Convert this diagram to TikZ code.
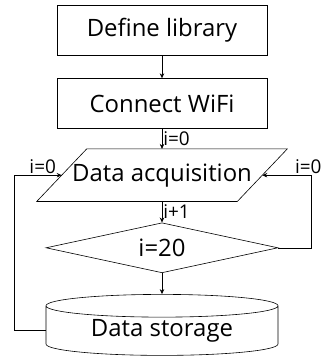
\documentclass[tikz,border=0pt]{standalone}
\usepackage{fontspec}
\setmainfont{Open Sans}
\usetikzlibrary{arrows.meta}
\usetikzlibrary{positioning}
\usetikzlibrary{shapes.geometric}
\tikzset {
  flow path/.style = {
    draw = black,
    line width = 0.6pt
  },
  % path with an arrow at its end
  arr/.style = {
    flow path,
    -{Stealth[length=5pt,width=4.5pt]}
  },
  % label beside an arrow
  lbl/.style = {
    font = \fontsize{19}{22}\selectfont,
    inner sep = 1bp
  }
}
\tikzset {
  flow node/.style = {
    draw = black,
    line width = 0.6pt,
    font = \fontsize{24}{26}\selectfont,
    inner sep = 0
  },
  % process step
  proc/.style = {
    flow node,
    rectangle,
    minimum width = 210bp,
    minimum height = 50bp
  },
  % input / output: the box is the mid line, the slanted frame is drawn round it
  inout/.style = {
    flow node,
    draw = none,
    rectangle,
    minimum width = 200bp,
    minimum height = 52bp
  },
  % decision
  decide/.style = {
    flow node,
    diamond,
    aspect = 4.6,
    minimum width = 232bp,
    minimum height = 50bp
  },
  % storage
  store/.style = {
    flow node,
    cylinder,
    shape border rotate = 90,
    aspect = 0.16,
    minimum width = 232bp,
    minimum height = 61bp
  },
  node distance = 21bp
}
\begin{document}
\begin{tikzpicture}[x=1bp, y=-1bp]
    \useasboundingbox (0,0) rectangle (327,357);
    \node[proc] (lib) at (162,30) {Define library};
    \node[proc] (wifi) [below=23bp of lib] {Connect WiFi};
    \node[inout] (acq) [below=20bp of wifi] {Data acquisition};
    \node[decide] (cond) [below=of acq] {i=20};
    \node[store] (storage) [below=of cond] {Data storage};

    % slanted frame of the input step
    \draw[flow path] ([xshift=25bp]acq.north west)
      -- ([xshift=25bp]acq.north east)
      -- ([xshift=-25bp]acq.south east)
      -- ([xshift=-25bp]acq.south west)
      -- cycle;

    \draw[arr] (lib) -- (wifi);

    \draw[arr] (wifi) -- (acq)
      node[lbl, midway, right] {i=0};

    \draw[arr] (acq) -- (cond)
      node[lbl, midway, right] {i+1};

    \draw[arr] (cond) -- (storage);

    \draw[arr] (cond.east)
      -- ++(33,0)
      |- (acq.east)
      node[lbl, pos=0.5, above, xshift=-3bp] {i=0};

    \draw[arr] (storage.west)
      -- ++(-31,0)
      |- (acq.west)
      node[lbl, pos=0.5, above, xshift=28bp] {i=0};
  \end{tikzpicture}
\end{document}
